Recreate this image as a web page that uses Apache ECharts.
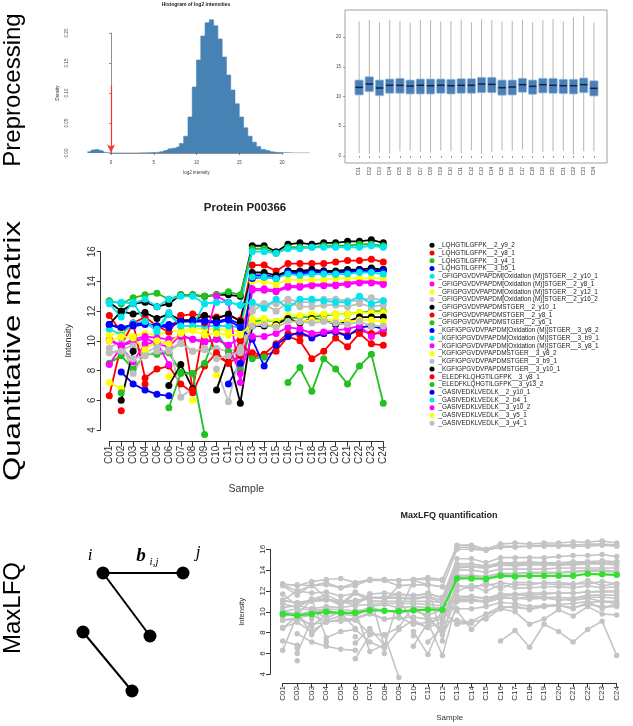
<!DOCTYPE html>
<html><head><meta charset="utf-8">
<script src="https://cdn.jsdelivr.net/npm/echarts@6/dist/echarts.min.js"></script>
<style>html,body{margin:0;padding:0;background:#fff}#c{width:633px;height:726px}</style>
</head><body><div id="c"></div>
<script>
// ---------- DATA ----------
const samples = ['C01','C02','C03','C04','C05','C06','C07','C08','C09','C10','C11','C12','C13','C14','C15','C16','C17','C18','C19','C20','C21','C22','C23','C24'];

// histogram of log2 intensities (bin centres, density)
const histCenters = [-2.75,-2.25,-1.75,-1.25,-0.75,-0.25,0.25,0.75,1.25,1.75,2.25,2.75,3.25,3.75,4.25,4.75,5.25,5.75,6.25,6.75,7.25,7.75,8.25,8.75,9.25,9.75,10.25,10.75,11.25,11.75,12.25,12.75,13.25,13.75,14.25,14.75,15.25,15.75,16.25,16.75,17.25,17.75,18.25,18.75,19.25,19.75,20.25,20.75,21.25,21.75,22.25,22.75,23.25];
const histDensity = [0.002,0.005,0.006,0.004,0.001,0.0003,0,0,0,0,0,0,0.0002,0.0003,0.0005,0.0008,0.001,0.002,0.004,0.007,0.008,0.010,0.016,0.028,0.060,0.110,0.155,0.195,0.217,0.222,0.212,0.190,0.160,0.130,0.105,0.082,0.060,0.042,0.028,0.018,0.011,0.006,0.004,0.002,0.0012,0.0008,0.0005,0.0003,0.0002,0.0001,0.0001,0.0001,0.0001];
const cutoff = 0;

// boxplot per sample
const boxLow  = [0.5,0.3,0.6,0.4,0.8,0.9,0.7,0.6,0.9,0.8,0.5,0.9,0.4,0.7,1.0,0.9,1.1,0.5,0.7,0.8,0.9,0.2,0.8,0.8];
const boxQ1   = [10.25,10.81,10.14,10.53,10.53,10.42,10.42,10.42,10.53,10.42,10.53,10.53,10.64,10.64,10.2,10.25,10.7,10.36,10.59,10.53,10.48,10.42,10.64,10.08];
const boxMed  = [11.54,12.1,11.43,11.88,11.88,11.76,11.88,11.82,11.88,11.82,11.88,11.88,12.1,12.04,11.48,11.6,11.99,11.71,11.99,11.88,11.82,11.82,11.99,11.37];
const boxQ3   = [12.77,13.33,12.77,12.94,13.05,12.77,12.94,12.94,12.94,12.89,13.0,13.0,13.22,13.22,12.77,12.77,13.05,12.77,13.05,13.05,12.89,12.89,13.11,12.66];
const boxHigh = [22.6,22.9,22.5,22.8,22.7,22.4,22.9,22.8,22.6,22.7,22.9,22.5,23.0,22.8,22.6,22.7,22.9,22.5,22.8,23.0,22.6,23.3,23.6,22.4];

// peptide intensities (log2) per sample
const peptideNames = [
'_LQHGTILGFPK__2_y9_2','_LQHGTILGFPK__2_y8_1','_LQHGTILGFPK__3_y4_1','_LQHGTILGFPK__3_b5_1',
'_GFIGPGVDVPAPDM[Oxidation (M)]STGER__2_y10_1','_GFIGPGVDVPAPDM[Oxidation (M)]STGER__2_y8_1',
'_GFIGPGVDVPAPDM[Oxidation (M)]STGER__2_y12_1','_GFIGPGVDVPAPDM[Oxidation (M)]STGER__2_y16_2',
'_GFIGPGVDVPAPDMSTGER__2_y10_1','_GFIGPGVDVPAPDMSTGER__2_y8_1','_GFIGPGVDVPAPDMSTGER__2_y6_1',
'_KGFIGPGVDVPAPDM[Oxidation (M)]STGER__3_y8_2','_KGFIGPGVDVPAPDM[Oxidation (M)]STGER__3_b9_1',
'_KGFIGPGVDVPAPDM[Oxidation (M)]STGER__3_y8_1','_KGFIGPGVDVPAPDMSTGER__3_y8_2',
'_KGFIGPGVDVPAPDMSTGER__3_b9_1','_KGFIGPGVDVPAPDMSTGER__3_y10_1',
'_ELEDFKLQHGTILGFPK__3_y8_1','_ELEDFKLQHGTILGFPK__3_y13_2',
'_GASIVEDKLVEDLK__2_y10_1','_GASIVEDKLVEDLK__2_b4_1','_GASIVEDKLVEDLK__3_y10_2',
'_GASIVEDKLVEDLK__3_y5_1','_GASIVEDKLVEDLK__3_y4_1'];
const peptideColors = ['#000000','#ff0000','#22c022','#0000ff','#00e5ee','#ff00ff','#ffff00','#bebebe'];

const pep01 = [12.6,12.0,12.5,12.6,12.3,12.5,13.1,13.1,13.0,13.1,13.1,13.0,16.4,16.4,16.0,16.5,16.6,16.5,16.6,16.6,16.7,16.7,16.8,16.6];
const pep02 = [11.7,10.6,11.2,11.6,11.0,10.6,11.7,11.8,11.7,11.6,11.7,11.4,15.1,15.1,14.7,15.2,15.2,15.2,15.2,15.3,15.4,15.4,15.5,15.3];
const pep03 = [12.7,12.5,12.9,13.1,13.2,12.8,13.1,13.1,13.0,13.1,13.3,13.1,16.2,16.2,15.9,16.3,16.3,16.3,16.4,16.4,16.4,16.5,16.5,16.4];
const pep04 = [11.1,10.8,11.0,11.1,11.0,11.1,11.3,11.4,11.4,11.3,11.5,11.1,14.4,14.4,14.3,14.7,14.6,14.7,14.7,14.6,14.7,14.8,14.7,14.8];
const pep05 = [12.6,12.6,12.5,12.8,12.3,12.8,13.0,13.0,12.5,12.6,12.6,12.4,16.0,16.0,15.9,16.2,16.2,16.3,16.3,16.3,16.3,16.3,16.4,16.3];
const pep06 = [10.1,9.7,9.9,10.2,9.8,9.6,10.4,10.1,9.9,10.1,9.7,10.2,13.5,13.5,13.4,13.7,13.7,13.8,13.8,13.8,13.9,14.0,14.0,13.9];
const pep07 = [10.4,10.6,10.3,10.5,10.4,10.6,10.7,10.8,10.8,10.8,10.7,10.6,14.0,14.0,13.8,14.1,14.1,14.1,14.1,14.2,14.2,14.2,14.2,14.2];
const pep08 = [9.2,9.4,9.7,9.0,9.2,9.4,9.9,9.3,9.4,9.5,9.3,9.5,12.4,12.5,12.5,12.8,12.6,12.6,12.8,12.8,12.7,12.7,12.9,12.7];
const pep09 = [11.1,12.0,11.8,11.9,11.5,11.8,11.4,11.4,11.7,11.5,11.8,11.3,14.6,14.6,14.4,14.7,14.7,14.8,14.7,14.7,14.8,14.8,14.9,14.8];
const pep10 = [6.3,9.7,11.2,7.5,8.1,8.3,7.1,6.5,8.3,9.2,8.5,9.0,9.2,9.0,9.3,10.3,10.0,8.8,9.3,10.2,9.6,10.5,9.8,9.7];
const pep11 = [8.5,9.0,8.1,9.1,9.1,9.2,7.9,7.8,8.5,10.6,9.3,8.1,11.3,11.4,11.3,11.5,11.6,11.6,11.7,11.8,11.8,11.9,12.0,12.0];
const pep12 = [null,7.9,7.1,6.7,6.4,6.3,null,null,null,null,7.1,8.5,14.2,14.3,14.2,14.6,14.5,14.6,14.6,14.5,14.6,14.7,14.7,14.7];
const pep13 = [10.8,10.4,11.2,11.3,10.6,11.8,11.0,11.0,11.0,11.0,11.0,10.9,14.3,14.3,14.2,14.5,14.4,14.5,14.5,14.5,14.5,14.6,14.6,14.5];
const pep14 = [8.4,9.6,8.6,9.8,9.9,8.4,null,null,9.9,13.0,12.6,7.2,13.4,13.4,13.3,13.6,13.6,13.7,13.7,13.7,13.8,13.9,13.9,13.8];
const pep15 = [7.2,6.8,null,9.3,null,7.6,null,6.0,null,7.7,null,9.3,11.5,11.5,11.3,11.7,11.7,11.8,11.8,11.8,11.8,11.9,11.9,11.9];
const pep16 = [9.5,10.0,7.8,9.2,9.6,10.1,6.2,6.8,null,8.1,5.9,9.2,12.0,12.5,12.0,12.6,12.3,12.3,12.4,12.4,12.3,12.5,12.3,12.4];
const pep17 = [null,6.0,9.3,null,null,7.0,8.4,6.8,null,6.7,9.0,5.8,11.0,11.0,11.1,11.5,11.2,11.5,11.4,11.1,11.3,11.6,11.6,11.6];
const pep18 = [null,5.3,null,7.1,null,10.6,11.7,6.7,11.2,9.0,8.5,10.0,8.9,9.1,9.8,10.5,10.4,10.3,10.5,10.6,10.4,10.7,10.5,10.5];
const pep19 = [null,6.5,null,null,null,5.5,7.8,7.8,3.7,null,null,null,8.8,8.9,null,7.2,8.2,6.6,8.8,8.1,7.1,8.3,9.1,5.8];
const pep20 = [11.1,10.9,11.1,11.2,11.0,10.9,11.3,11.3,11.3,11.2,11.4,10.9,10.1,8.3,9.7,10.3,10.6,10.2,10.5,10.6,10.3,10.9,11.0,10.8];
const pep21 = [12.5,11.6,12.6,11.3,10.8,11.9,11.0,11.0,12.5,12.6,12.6,12.4,12.6,12.2,12.8,12.2,12.8,12.8,12.7,12.6,12.6,13.0,12.5,12.7];
const pep22 = [10.0,9.7,10.1,10.3,10.2,10.1,10.3,10.1,10.0,10.1,9.7,7.8,10.3,10.3,10.5,10.9,10.8,10.5,10.6,10.7,10.8,11.0,10.3,10.8];
const pep23 = [10.0,10.3,10.2,9.4,10.0,9.8,10.5,10.7,10.4,10.5,10.4,10.4,11.2,11.2,11.0,11.3,11.3,11.4,11.4,11.4,11.3,11.4,11.4,11.3];
const pep24 = [9.2,9.3,8.8,9.0,9.3,9.3,9.8,9.3,9.5,8.8,9.0,9.3,11.0,11.1,10.9,11.3,11.3,11.2,11.3,11.2,11.1,11.3,11.0,11.0];
const peptideValues = [pep01,pep02,pep03,pep04,pep05,pep06,pep07,pep08,pep09,pep10,pep11,pep12,pep13,pep14,pep15,pep16,pep17,pep18,pep19,pep20,pep21,pep22,pep23,pep24];

// MaxLFQ protein quantification
const maxlfq = [9.8,9.65,9.8,10.0,9.9,9.9,10.15,10.1,10.05,10.15,10.2,10.2,13.2,13.2,13.15,13.45,13.4,13.45,13.45,13.45,13.45,13.65,13.6,13.55];

// pairwise-ratio diagram
const nodeX = [2.0, 6.0, 4.35, 1.0, 3.45];
const nodeY = [2.0, 2.0, 5.15, 4.95, 7.9];
const nodeLinks = [[0,1],[0,2],[3,4]];

// ---------- CHART ----------
const FONT = 'Liberation Sans';
const chart = echarts.init(document.getElementById('c'), null, {renderer:'canvas'});

function rAxis(extra, fs) {
  const base = {
    axisLine:{show:true, lineStyle:{color:'#333', width:1}},
    axisTick:{show:true, length:4, lineStyle:{color:'#333', width:1}},
    axisLabel:{fontSize:fs, color:'#333', fontFamily:FONT},
    splitLine:{show:false},
    nameTextStyle:{fontSize:fs, color:'#333', fontFamily:FONT}
  };
  return Object.assign(base, extra);
}
const hidden = (gi, extra) => Object.assign({gridIndex:gi, show:false, splitLine:{show:false}}, extra);

const grids = [
  {left:81.1, top:9, width:235.1, height:144},          // 0 hist data
  {left:111, top:33, width:171, height:120},            // 1 hist axes
  {left:345, top:10, width:262, height:153, show:true, borderColor:'#888', borderWidth:0.8, backgroundColor:'rgba(0,0,0,0)'}, // 2 box frame
  {left:354, top:37, width:245, height:119},            // 3 box data
  {left:109.3, top:251.7, width:274, height:178.3},     // 4 protein
  {left:282.7, top:549.3, width:334, height:125},       // 5 maxlfq
  {left:63, top:533, width:160, height:180}             // 6 diagram
];

const xAxes = [
  hidden(0, {type:'value', min:-3.5, max:24}),
  rAxis({gridIndex:1, type:'value', min:0, max:20, interval:5, offset:4, name:'log2 intensity', nameLocation:'middle', nameGap:13,
    axisTick:{show:true,length:2,lineStyle:{color:'#444',width:0.6}}, axisLine:{lineStyle:{color:'#444',width:0.6}}, axisLabel:{fontSize:4.5,color:'#444',margin:3}}, 4.5),
  hidden(2, {type:'value', min:0, max:1}),
  rAxis({gridIndex:3, type:'category', data:samples, offset:7, boundaryGap:true,
    axisTick:{show:true, alignWithLabel:true, length:2, lineStyle:{color:'#555',width:0.6}}, axisLine:{show:false},
    axisLabel:{fontSize:4.5, color:'#444', rotate:90, interval:0, margin:4}}, 4.5),
  rAxis({gridIndex:4, type:'category', data:samples, boundaryGap:false, offset:11.7, name:'Sample', nameLocation:'middle', nameGap:42,
    axisTick:{show:true, length:5, lineStyle:{color:'#333'}}, axisLabel:{fontSize:10, color:'#333', rotate:90, interval:0, margin:4}}, 10.5),
  rAxis({gridIndex:5, type:'category', data:samples, boundaryGap:false, offset:8.7, name:'Sample', nameLocation:'middle', nameGap:31,
    axisTick:{show:true, length:4, lineStyle:{color:'#333'}}, axisLabel:{fontSize:8, color:'#333', rotate:90, interval:0, margin:3}}, 8),
  hidden(6, {type:'value', min:0, max:8})
];
const yAxes = [
  hidden(0, {type:'value', min:0, max:0.24}),
  rAxis({gridIndex:1, type:'value', min:0, max:0.2, interval:0.05, offset:39, name:'Density', nameLocation:'middle', nameGap:12,
    axisTick:{show:true,length:2,lineStyle:{color:'#444',width:0.6}}, axisLine:{lineStyle:{color:'#444',width:0.6}},
    axisLabel:{fontSize:4.5, color:'#444', rotate:90, margin:3, formatter:v=>v.toFixed(2)}}, 4.5),
  hidden(2, {type:'value', min:0, max:1}),
  rAxis({gridIndex:3, type:'value', min:0, max:20, interval:5, offset:9,
    axisTick:{show:true,length:2,lineStyle:{color:'#555',width:0.6}}, axisLine:{show:false},
    axisLabel:{fontSize:4.5, color:'#444', margin:4}}, 4.5),
  rAxis({gridIndex:4, type:'value', min:4, max:16, interval:2, offset:8.6, name:'Intensity', nameLocation:'middle', nameGap:28,
    axisTick:{show:true, length:4, lineStyle:{color:'#333'}}, axisLabel:{fontSize:10, color:'#333', rotate:90, margin:3}}, 9),
  rAxis({gridIndex:5, type:'value', min:4, max:16, interval:2, offset:12.7, name:'Intensity', nameLocation:'middle', nameGap:24,
    axisTick:{show:true, length:4, lineStyle:{color:'#333'}}, axisLabel:{fontSize:8, color:'#333', rotate:90, margin:3}}, 7.5),
  hidden(6, {type:'value', min:0, max:9, inverse:true})
];

const series = [];
// histogram
series.push({
  type:'line', xAxisIndex:0, yAxisIndex:0, step:'middle', symbol:'none',
  data: histCenters.map((c,k)=>[c, histDensity[k]]),
  lineStyle:{color:'#4682b4', width:0.6}, areaStyle:{color:'#4682b4', opacity:1},
  markLine:{silent:true, symbol:['none','arrow'], symbolSize:[6,8],
    lineStyle:{color:'#ff3030', width:1.2, type:'solid'}, label:{show:false},
    data:[[{coord:[cutoff,0.112]},{coord:[cutoff,0.001]}]]}
});
// boxplots
series.push({
  type:'custom', xAxisIndex:3, yAxisIndex:3,
  data: samples.map((s,k)=>[k, boxLow[k], boxQ1[k], boxMed[k], boxQ3[k], boxHigh[k]]),
  encode:{x:0, y:[1,2,3,4,5]},
  renderItem:(params, api)=>{
    const i = api.value(0);
    const lo = api.coord([i, api.value(1)]), q1 = api.coord([i, api.value(2)]),
          md = api.coord([i, api.value(3)]), q3 = api.coord([i, api.value(4)]),
          hi = api.coord([i, api.value(5)]);
    const w = 8.4;
    return {type:'group', children:[
      {type:'line', shape:{x1:lo[0],y1:lo[1],x2:hi[0],y2:hi[1]}, style:{stroke:'#b4b4b4', lineWidth:1}},
      {type:'rect', shape:{x:q3[0]-w/2, y:q3[1], width:w, height:q1[1]-q3[1], r:1}, style:{fill:'#4a80b7', stroke:'#9fbddb', lineWidth:0.8}},
      {type:'line', shape:{x1:md[0]-w/2+0.5,y1:md[1],x2:md[0]+w/2-0.5,y2:md[1]}, style:{stroke:'#0f2340', lineWidth:1.5}}
    ]};
  }
});
// protein peptide profiles (coloured)
peptideValues.forEach((vals,k)=>{
  const col = peptideColors[k % 8];
  series.push({
    type:'line', name:peptideNames[k], xAxisIndex:4, yAxisIndex:4, data:vals, clip:false,
    symbol:'circle', symbolSize:7, color:col, itemStyle:{color:col}, lineStyle:{color:col, width:1.8},
    connectNulls:false
  });
});
// maxlfq grey profiles
peptideValues.forEach((vals,k)=>{
  series.push({
    type:'line', name:'grey'+k, xAxisIndex:5, yAxisIndex:5, data:vals, clip:false,
    symbol:'circle', symbolSize:5.5, itemStyle:{color:'#c4c4c4'}, lineStyle:{color:'#c4c4c4', width:1.6}
  });
});
series.push({
  type:'line', name:'MaxLFQ', xAxisIndex:5, yAxisIndex:5, data:maxlfq, clip:false,
  symbol:'circle', symbolSize:6.5, itemStyle:{color:'#33e033'}, lineStyle:{color:'#33e033', width:2.2}, z:5
});
// diagram
series.push({
  type:'graph', coordinateSystem:'cartesian2d', xAxisIndex:6, yAxisIndex:6,
  data: nodeX.map((x,k)=>[x, nodeY[k]]),
  links: nodeLinks.map(l=>({source:l[0], target:l[1]})),
  symbolSize:13, itemStyle:{color:'#000'}, lineStyle:{color:'#000', width:2, opacity:1}, label:{show:false}
});

const txt = (x,y,text,opts) => ({type:'text', x, y, silent:true,
  rotation: (opts && opts.rot) || 0,
  scaleX: (opts && opts.sx) || 1,
  style:Object.assign({text, fill:'#000', fontFamily:FONT, fontSize:12, align:'center', verticalAlign:'middle'}, (opts && opts.style) || {})});

const option = {
  animation:false,
  backgroundColor:'#fff',
  textStyle:{fontFamily:FONT},
  grid: grids, xAxis: xAxes, yAxis: yAxes, series,
  legend:{
    data: peptideNames, orient:'vertical', left:429.5, top:241.5, padding:0,
    itemWidth:5, itemHeight:5, itemGap:0, icon:'circle', selectedMode:false,
    textStyle:{fontSize:6.4, lineHeight:7.73, color:'#222', fontFamily:FONT, padding:[0,0,0,-1]}
  },
  graphic:[
    txt(13, 90, 'Preprocessing', {rot:Math.PI/2, style:{fontSize:24}}),
    txt(13, 351, 'Quantitative matrix', {rot:Math.PI/2, sx:1.3, style:{fontSize:24}}),
    txt(13, 608, 'MaxLFQ', {rot:Math.PI/2, style:{fontSize:24}}),
    txt(196, 5, 'Histogram of log2 intensities', {style:{fontSize:5, fontWeight:'bold', fill:'#222'}}),
    txt(245, 208, 'Protein P00366', {style:{fontSize:11.5, fontWeight:'bold', fill:'#222'}}),
    txt(449, 516, 'MaxLFQ quantification', {style:{fontSize:9, fontWeight:'bold', fill:'#222'}}),
    txt(90, 556, 'i', {style:{fontSize:17, fontStyle:'italic', fontFamily:'Liberation Serif'}}),
    txt(141, 556, 'b', {style:{fontSize:19, fontStyle:'italic', fontWeight:'bold', fontFamily:'Liberation Serif'}}),
    txt(154, 562, 'i,j', {style:{fontSize:11, fontStyle:'italic', fontFamily:'Liberation Serif'}}),
    txt(198, 553, 'j', {style:{fontSize:17, fontStyle:'italic', fontFamily:'Liberation Serif'}})
  ]
};
chart.setOption(option);
</script></body></html>
